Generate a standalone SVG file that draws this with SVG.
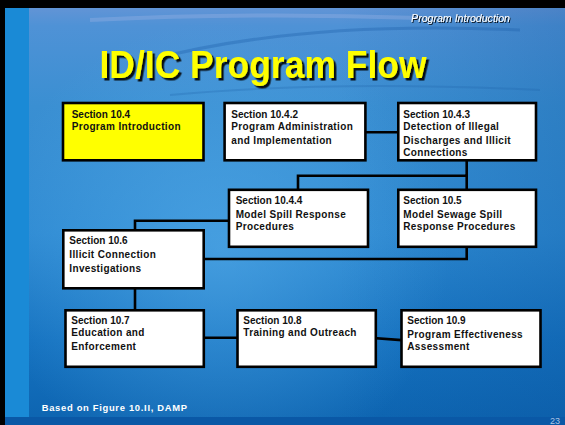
<svg xmlns="http://www.w3.org/2000/svg" width="565" height="425" viewBox="0 0 565 425">
  <defs>
    <linearGradient id="bgV" x1="0" y1="0" x2="0" y2="1">
      <stop offset="0" stop-color="#6a95d6"/>
      <stop offset="0.06" stop-color="#4f92d6"/>
      <stop offset="0.25" stop-color="#3a8fd2"/>
      <stop offset="0.55" stop-color="#2e8ad2"/>
      <stop offset="0.8" stop-color="#1572c0"/>
      <stop offset="1" stop-color="#0d64b0"/>
    </linearGradient>
    <radialGradient id="glow" cx="220" cy="250" r="230" gradientUnits="userSpaceOnUse">
      <stop offset="0" stop-color="#5ab0ec" stop-opacity="0.55"/>
      <stop offset="1" stop-color="#5ab0ec" stop-opacity="0"/>
    </radialGradient>
    <linearGradient id="rightShade" x1="0" y1="0" x2="1" y2="0">
      <stop offset="0.6" stop-color="#0a4f98" stop-opacity="0"/>
      <stop offset="1" stop-color="#0a4f98" stop-opacity="0.25"/>
    </linearGradient>
    <filter id="titleShadow" x="-5%" y="-20%" width="115%" height="150%">
      <feDropShadow dx="2.5" dy="2.5" stdDeviation="0.4" flood-color="#000" flood-opacity="0.9"/>
    </filter>
    <filter id="smallShadow" x="-5%" y="-30%" width="115%" height="170%">
      <feDropShadow dx="1" dy="1" stdDeviation="0.3" flood-color="#000" flood-opacity="0.85"/>
    </filter>
  </defs>
  <style>
    .box { fill: #ffffff; stroke: #000000; stroke-width: 2.6; }
    .box.hl { fill: #ffff00; }
    .t { font-family: "Liberation Sans", Arial, sans-serif; font-weight: bold; font-size: 10px; fill: #111111; }
    .d { letter-spacing: 0.35px; }
    .conn { stroke: #000000; stroke-width: 2.6; fill: none; stroke-linecap: square; }
  </style>

  <!-- background -->
  <rect x="0" y="0" width="565" height="425" fill="url(#bgV)"/>
  <rect x="0" y="0" width="565" height="425" fill="url(#glow)"/>
  <rect x="0" y="0" width="565" height="425" fill="url(#rightShade)"/>
  <path d="M150 60 Q300 20 520 30" stroke="#1d5fa8" stroke-opacity="0.35" stroke-width="3" fill="none"/>
  <path d="M170 95 Q330 80 540 90" stroke="#1d5fa8" stroke-opacity="0.25" stroke-width="2" fill="none"/>
  <path d="M90 20 Q250 12 420 18" stroke="#a8b8e8" stroke-opacity="0.3" stroke-width="4" fill="none"/>
  <rect x="5" y="8" width="24" height="417" fill="#1a8ad6"/>
  <rect x="0" y="417" width="565" height="8" fill="#0a58a6"/>
  <rect x="0" y="0" width="565" height="8" fill="#000000"/>
  <rect x="0" y="0" width="5" height="425" fill="#000000"/>

  <!-- header texts -->
  <text x="510" y="21.7" text-anchor="end" font-family="'Liberation Sans', Arial, sans-serif" font-style="italic" font-size="10.6" fill="#ffffff" filter="url(#smallShadow)">Program Introduction</text>
  <text x="263" y="77.7" text-anchor="middle" font-family="'Liberation Sans', Arial, sans-serif" font-weight="bold" font-size="38" textLength="327" lengthAdjust="spacingAndGlyphs" fill="#ffff00" filter="url(#titleShadow)">ID/IC Program Flow</text>

  <!-- connectors -->
  <g id="connectors">
    <line class="conn" x1="366.7" y1="132.3" x2="397" y2="132.3"/>
    <polyline class="conn" points="466.7,162 466.7,175.7 298,175.7 298,188.5"/>
    <line class="conn" x1="466.7" y1="175.7" x2="466.7" y2="188.5"/>
    <polyline class="conn" points="228,220.7 135,220.7 135,229"/>
    <polyline class="conn" points="466.7,248 466.7,259 205,259"/>
    <line class="conn" x1="135" y1="289.5" x2="135" y2="309"/>
    <line class="conn" x1="205" y1="337.7" x2="236.3" y2="337.7"/>
    <line class="conn" x1="377" y1="338.3" x2="400.3" y2="340"/>
  </g>

  <!-- nodes -->
  <g id="n10_4">
    <rect class="box hl" x="63" y="103" width="140.5" height="57.3"/>
    <text class="t" x="71.7" y="117.7">Section 10.4</text>
    <text class="t d" x="71.7" y="130">Program Introduction</text>
  </g>
  <g id="n10_4_2">
    <rect class="box" x="224.6" y="103" width="140.8" height="57.3"/>
    <text class="t" x="231.3" y="117.7">Section 10.4.2</text>
    <text class="t d" x="231.3" y="130">Program Administration</text>
    <text class="t d" x="231.3" y="143.5">and Implementation</text>
  </g>
  <g id="n10_4_3">
    <rect class="box" x="398.3" y="103" width="137.7" height="57.3"/>
    <text class="t" x="403.3" y="117.7">Section 10.4.3</text>
    <text class="t d" x="403.3" y="129.7">Detection of Illegal</text>
    <text class="t d" x="403.3" y="144">Discharges and Illicit</text>
    <text class="t d" x="403.3" y="155.5">Connections</text>
  </g>
  <g id="n10_4_4">
    <rect class="box" x="229" y="189.8" width="139" height="57"/>
    <text class="t" x="235.7" y="204">Section 10.4.4</text>
    <text class="t d" x="235.7" y="218.3">Model Spill Response</text>
    <text class="t d" x="235.7" y="230">Procedures</text>
  </g>
  <g id="n10_5">
    <rect class="box" x="398.3" y="189.8" width="137.7" height="57"/>
    <text class="t" x="403.3" y="204">Section 10.5</text>
    <text class="t d" x="403.3" y="218.3">Model Sewage Spill</text>
    <text class="t d" x="403.3" y="230">Response Procedures</text>
  </g>
  <g id="n10_6">
    <rect class="box" x="63.3" y="230.3" width="140.4" height="58"/>
    <text class="t" x="69.3" y="244">Section 10.6</text>
    <text class="t d" x="69.3" y="258.3">Illicit Connection</text>
    <text class="t d" x="69.3" y="271.7">Investigations</text>
  </g>
  <g id="n10_7">
    <rect class="box" x="65.5" y="310.3" width="138.3" height="56.5"/>
    <text class="t" x="71.3" y="324">Section 10.7</text>
    <text class="t d" x="71.3" y="336.3">Education and</text>
    <text class="t d" x="71.3" y="350">Enforcement</text>
  </g>
  <g id="n10_8">
    <rect class="box" x="237.5" y="310.3" width="138.3" height="56.5"/>
    <text class="t" x="243.3" y="324">Section 10.8</text>
    <text class="t d" x="243.3" y="336.3">Training and Outreach</text>
  </g>
  <g id="n10_9">
    <rect class="box" x="401.5" y="310.3" width="139" height="56.5"/>
    <text class="t" x="407.3" y="324">Section 10.9</text>
    <text class="t d" x="407.3" y="338.3">Program Effectiveness</text>
    <text class="t d" x="407.3" y="350">Assessment</text>
  </g>

  <!-- footer -->
  <text x="41.7" y="411" font-family="'Liberation Sans', Arial, sans-serif" font-weight="bold" font-size="9.4" letter-spacing="0.7" fill="#ffffff">Based on Figure 10.II, DAMP</text>
  <text x="560" y="423.5" text-anchor="end" font-family="'Liberation Sans', Arial, sans-serif" font-size="9" fill="#a9c4e4">23</text>
</svg>
